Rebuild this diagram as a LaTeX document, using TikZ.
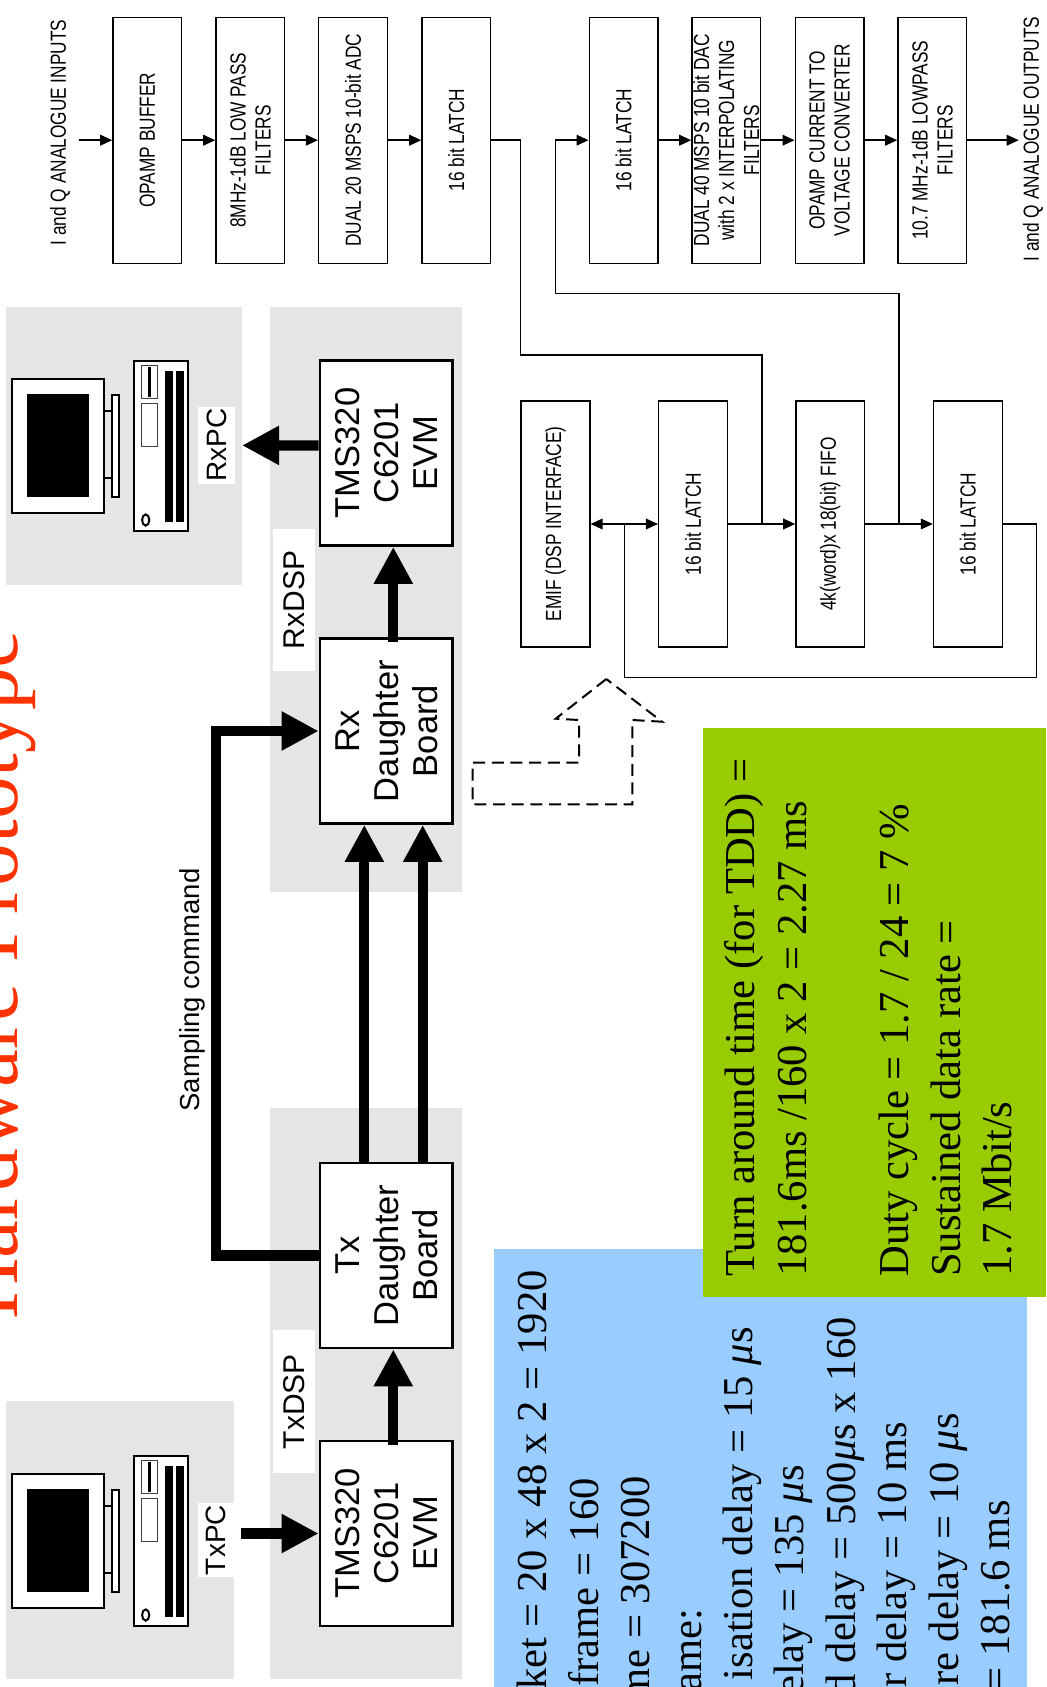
\documentclass[tikz,border=0pt]{standalone}
\usepackage{xcolor}
\usepackage{fontspec}
\usepackage{tikz}
\usetikzlibrary{arrows.meta,positioning,calc}
\setmainfont{Liberation Serif}
\setsansfont{Liberation Sans}
\newfontfamily\narrowsans[FakeStretch=0.79]{Liberation Sans}
\definecolor{panel}{HTML}{E5E5E5}
\definecolor{sky}{HTML}{99CCFF}
\definecolor{leaf}{HTML}{99CC00}
\definecolor{flame}{HTML}{FF3300}
\tikzset{
  block/.style={draw=black, fill=white, line width=1pt, rotate=90, inner sep=0pt, align=center,
    minimum width=184.5pt, minimum height=51.6pt, font=\narrowsans\fontsize{16.4}{18.75}\selectfont},
  wire/.style={draw=black, line width=1.1pt, -{Triangle[length=9pt,width=8pt]}},
  plainwire/.style={draw=black, line width=1.1pt},
  boardbox/.style={draw=black, fill=white, line width=2pt, rotate=90, inner sep=0pt, align=center,
    minimum width=138.75pt, minimum height=99.5pt, font=\sffamily\fontsize{25.9}{29.25}\selectfont},
  bus/.style={draw=black, line width=7.7pt, -{Triangle[length=27.75pt,width=27.5pt]}},
  tag/.style={fill=white, rotate=90, inner sep=0pt, font=\sffamily\fontsize{22.5}{26}\selectfont},
  slidetext/.style={rotate=90, inner sep=0pt, font=\fontsize{31.95}{38}\selectfont},
  icon/.style={draw=black, line width=1.5pt}
}
\begin{document}
\begin{tikzpicture}[x=0.75pt,y=-0.75pt]
  \clip (0,0) rectangle (1046,1687);
  % panels behind everything
  \fill[panel] (6,307) rectangle (242,585);
  \fill[panel] (270,307) rectangle (462,892);
  \fill[panel] (6,1401) rectangle (234,1679);
  \fill[panel] (270,1108) rectangle (462,1679);
  \fill[sky] (494,1249) rectangle (1027,1687);
  \fill[leaf] (703,728) rectangle (1046,1297);

  \node[slidetext, anchor=base west, text=flame, font=\fontsize{64}{70}\selectfont] (title) at (17,1320) {Hardware Prototype};

  % top row
  \foreach \n/\x/\t in {
     opbuf/147.3/{OPAMP BUFFER},
     lowpass/250.3/{8MHz-1dB LOW PASS\\FILTERS},
     adc/353/{DUAL 20 MSPS 10-bit ADC},
     txlatch/456.3/{16 bit LATCH},
     rxlatch/623.6/{16 bit LATCH},
     dac/726.3/{DUAL 40 MSPS 10 bit DAC\\with 2 x INTERPOLATING\\FILTERS},
     opconv/829.6/{OPAMP CURRENT TO\\VOLTAGE CONVERTER},
     outfilt/932.3/{10.7 MHz-1dB LOWPASS\\FILTERS}}
  {
    \node[block] (\n) at (\x,140.2) {\t};
  }
  % lower row
  \foreach \n/\x/\t in {
     emif/555.5/{EMIF (DSP INTERFACE)},
     latchin/693/{16 bit LATCH},
     fifo/830.3/{4k(word)x 18(bit) FIFO},
     latchout/967.9/{16 bit LATCH}}
  {
    \node[block] (\n) at (\x,524) {\t};
  }
  \node[block, draw=none, fill=none, minimum height=0pt, minimum width=0pt] (inlabel) at (60,132.5) {I and Q ANALOGUE INPUTS};
  \node[block, draw=none, fill=none, minimum height=0pt, minimum width=0pt] (outlabel) at (1033,139) {I and Q ANALOGUE OUTPUTS};

  \coordinate (qin) at (78.7,140.2);
  \coordinate (qout) at (1018.7,140.2);
  \coordinate (rxjoin) at (762,524);
  \coordinate (txjoin) at (899,524);
  \coordinate (emifjoin) at (624.4,524);

  \draw[wire] (qin) -- (opbuf.north);
  \foreach \a/\b in {opbuf/lowpass,lowpass/adc,adc/txlatch,rxlatch/dac,dac/opconv,opconv/outfilt,latchin/fifo,fifo/latchout}
    \draw[wire] (\a.south) -- (\b.north);
  \draw[wire] (outfilt.south) -- (qout);
  \draw[wire] (emifjoin) -- (emif.south);
  \draw[wire] (emifjoin) -- (latchin.north);
  \draw[plainwire] (txlatch.south) -- (520.7,140.2) -- (520.7,355) -- (762,355) -- (rxjoin);
  \draw[wire] (txjoin) -- (899,293.5) -- (555.3,293.5) -- (555.3,140.2) -- (rxlatch.north);
  \draw[plainwire] (latchout.south) -- (1036.6,524) -- (1036.6,677.3) -- (624.4,677.3) -- (emifjoin);

  % dashed arrow from the rx board to the detail
  \draw[draw=black, line width=1.5pt, dash pattern=on 9pt off 5pt]
    (606.3,679) -- (555.7,718.7) -- (579,720) -- (579,762.5) -- (472.7,762.5) -- (472.7,804.4)
    -- (632.4,804.4) -- (632.4,720) -- (662,721.7) -- cycle;

  % boards
  \node[boardbox] (rxevm) at (386.3,453) {TMS320\\C6201\\EVM};
  \node[boardbox] (rxboard) at (386.3,731) {Rx\\Daughter\\Board};
  \node[boardbox] (txboard) at (386.3,1255.5) {Tx\\Daughter\\Board};
  \node[boardbox] (txevm) at (386.3,1533.5) {TMS320\\C6201\\EVM};

  \node[tag, minimum width=57.5pt, minimum height=27.7pt, font=\sffamily\fontsize{21}{24}\selectfont] (rxpc) at (216.5,445.3) {RxPC};
  \node[tag, minimum width=107pt, minimum height=31.5pt] (rxdsp) at (294,600) {RxDSP};
  \node[tag, minimum width=56pt, minimum height=27pt, font=\sffamily\fontsize{21}{24}\selectfont] (txpc) at (216,1540) {TxPC};
  \node[tag, minimum width=107pt, minimum height=31.5pt] (txdsp) at (294,1401.5) {TxDSP};
  \node[inner sep=0pt, rotate=90, anchor=base, font=\sffamily\fontsize{20.6}{24}\selectfont] (cmd) at (199.3,990) {Sampling command};

  \coordinate (rxpcend) at (242,445.4);
  \coordinate (txpcend) at (241,1533.5);

  \draw[bus] ([shift={(7,5)}]rxboard.east) -- ([shift={(7,0)}]rxevm.west);
  \draw[bus] ([shift={(0,-7.6)}]rxevm.north) -- (rxpcend);
  \draw[bus] (txpcend) -- (txevm.north);
  \draw[bus] ([shift={(7,5)}]txevm.east) -- ([shift={(7,0)}]txboard.west);
  \draw[bus] ([shift={(-22,0)}]txboard.east) -- ([shift={(-22,0)}]rxboard.west);
  \draw[bus] ([shift={(36.4,0)}]txboard.east) -- ([shift={(36.4,0)}]rxboard.west);
  \draw[bus] (txboard.north) -- ++(-103,0) |- (rxboard.north);

  % the two computers
  \foreach \o in {0,1095}
  {
    \begin{scope}[shift={(0,\o)}]
      \draw[icon, fill=white] (11.5,378.5) rectangle (103.8,512.8);
      \fill[black] (26.7,394) rectangle (88.7,497);
      \draw[icon, fill=white] (111.5,395) rectangle (118.8,497);
      \draw[icon] (104,411) -- (111.5,411);
      \draw[icon] (104,478) -- (111.5,478);
      \draw[icon, fill=white] (133.8,361) rectangle (188,530.5);
      \draw[draw=black!75, line width=0.75pt] (141.7,365) rectangle (157,398.7);
      \fill[black] (147.7,367) rectangle (151,396.5);
      \draw[draw=black!75, line width=0.75pt] (141.7,403) rectangle (157,446);
      \fill[black] (164.7,370.8) rectangle (173,522);
      \fill[black] (175.7,370.8) rectangle (184.3,522);
      \draw[icon] (145.7,520) ellipse [x radius=3.6, y radius=5.6];
    \end{scope}
  }

  % note on the right
  \foreach \i/\p/\t in {
     0/754/{Turn around time (for TDD) =},
     1/806/{181.6ms /160 x 2 = 2.27 ms},
     2/908/{Duty cycle = 1.7 / 24 = 7 \%},
     3/960/{Sustained data rate =},
     4/1011.7/{1.7 Mbit/s}}
  {
    \node[slidetext, anchor=base west] (note\i) at (\p,1277) {\t};
  }
  \foreach \i/\q/\t in {
     0/1270/{ket = 20 x 48 x 2 = 1920},
     1/1478/{frame = 160},
     2/1476/{me = 307200},
     3/1608/{ame:},
     4/1327/{isation delay = 15 {\itshape μ}s},
     5/1465/{elay = 135 {\itshape μ}s},
     6/1317/{d delay = 500{\itshape μ}s x 160},
     7/1422/{r delay = 10 ms},
     8/1413/{re delay = 10 {\itshape μ}s},
     9/1500/{= 181.6 ms}}
  {
    \node[slidetext, anchor=base east] (sum\i) at ({546.8+\i*51.4},\q) {\t};
  }
\end{tikzpicture}
\end{document}
